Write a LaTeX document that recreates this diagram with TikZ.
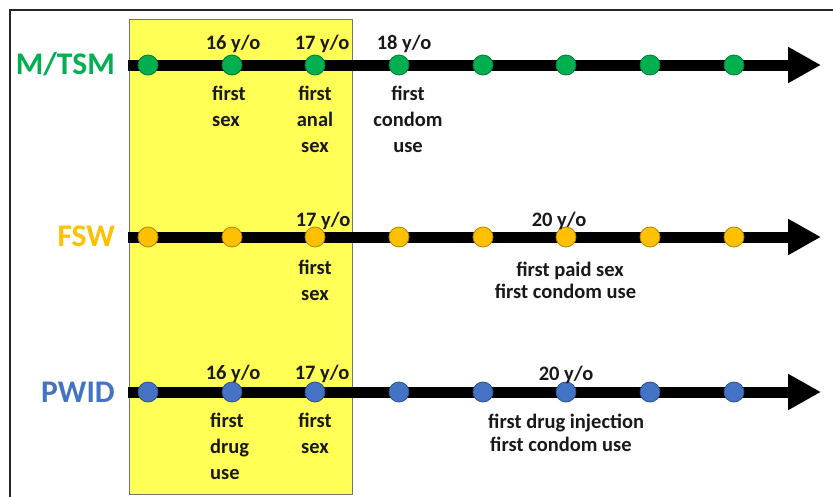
\documentclass[tikz,border=0pt]{standalone}
\usepackage{fontspec}
\setmainfont{Carlito}
\usetikzlibrary{arrows.meta}
\definecolor{mgreen}{RGB}{0,176,80}
\definecolor{morange}{RGB}{255,192,0}
\definecolor{mblue}{RGB}{68,114,196}
\definecolor{myellow}{RGB}{255,255,85}
\begin{document}
\begin{tikzpicture}[x=1pt,y=-1pt,
  lab/.style={font=\bfseries\fontsize{20.5}{26}\selectfont, inner sep=0, anchor=base, text=black!90},
  labw/.style={lab, anchor=base west},
  grp/.style={font=\bfseries\fontsize{31.5}{36}\selectfont, inner sep=0, anchor=base east},
  dot/.style={circle, minimum size=20pt, inner sep=0, line width=0.8pt},
  tl/.style={line width=11pt, -{Triangle[length=33pt,width=34pt]}}]
\useasboundingbox (0,0) rectangle (833,496);
\fill[white] (0,0) rectangle (833,496);
\draw[line width=1.3pt, black!85] (10,498) -- (10,10) -- (835,10);
\draw[fill=myellow, draw=black!55, line width=0.8pt] (129,19) rectangle (352,494);

% ---- M/TSM ----
\coordinate (m0) at (128,65); \coordinate (mE) at (821,65);
\draw[tl] (m0) -- (mE);
\foreach \i/\x in {1/148,2/232,3/315,4/399,5/483,6/566,7/650,8/734}
  \node[dot, fill=mgreen, draw=mgreen!70!black] (m\i) at (\x,65) {};
\node[grp, text=mgreen] (mlab) at (115,74.5) {M/TSM};
\node[lab] (m16) at (233,49) {16 y/o};
\node[lab] (m17) at (322,49) {17 y/o};
\node[lab] (m18) at (404,49) {18 y/o};
\node[labw] (ma1) at (212,100) {first};
\node[labw] (ma2) at (212,126) {sex};
\node[lab] (mb1) at (315,100) {first};
\node[lab] (mb2) at (315,126) {anal};
\node[lab] (mb3) at (315,152) {sex};
\node[lab] (mc1) at (408,100) {first};
\node[lab] (mc2) at (408,126) {condom};
\node[lab] (mc3) at (408,152) {use};

% ---- FSW ----
\coordinate (f0) at (128,237); \coordinate (fE) at (821,237);
\draw[tl] (f0) -- (fE);
\foreach \i/\x in {1/148,2/232,3/315,4/399,5/483,6/566,7/650,8/734}
  \node[dot, fill=morange, draw=morange!70!black] (f\i) at (\x,237) {};
\node[grp, text=morange] (flab) at (115,246.5) {FSW};
\node[lab] (f17) at (323,226.5) {17 y/o};
\node[lab] (f20) at (559,226) {20 y/o};
\node[lab] (fa1) at (315,274) {first};
\node[lab] (fa2) at (315,300) {sex};
\node[lab] (fb1) at (570,276) {first paid sex};
\node[lab] (fb2) at (565.5,298) {first condom use};

% ---- PWID ----
\coordinate (p0) at (128,392); \coordinate (pE) at (821,392);
\draw[tl] (p0) -- (pE);
\foreach \i/\x in {1/148,2/232,3/315,4/399,5/483,6/566,7/650,8/734}
  \node[dot, fill=mblue, draw=mblue!70!black] (p\i) at (\x,392) {};
\node[grp, text=mblue] (plab) at (115,402) {PWID};
\node[lab] (p16) at (233,379) {16 y/o};
\node[lab] (p17) at (322,379) {17 y/o};
\node[lab] (p20) at (566,380.5) {20 y/o};
\node[labw] (pa1) at (210,427) {first};
\node[labw] (pa2) at (210,453) {drug};
\node[labw] (pa3) at (210,479) {use};
\node[lab] (pb1) at (315,427) {first};
\node[lab] (pb2) at (315,453) {sex};
\node[labw] (pc1) at (488,428) {first drug injection};
\node[labw] (pc2) at (490,451.5) {first condom use};
\end{tikzpicture}
\end{document}
